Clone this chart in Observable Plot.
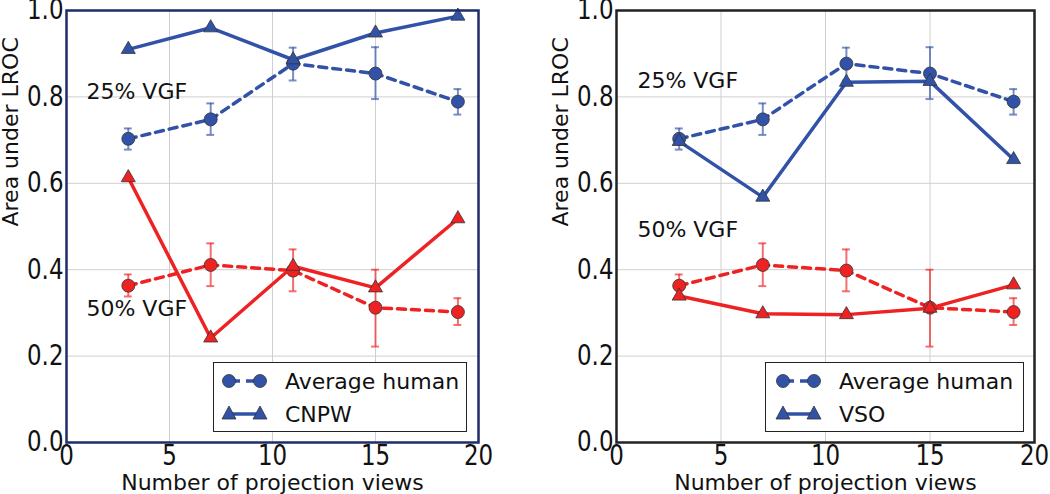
<!DOCTYPE html>
<html>
<head>
<meta charset="utf-8">
<script src="https://cdn.jsdelivr.net/npm/d3@7"></script>
<script src="https://cdn.jsdelivr.net/npm/@observablehq/plot@0.6"></script>
<style>
  html, body { margin: 0; padding: 0; background: #fff; }
  #wrap { position: relative; width: 1050px; height: 494px; overflow: hidden; font-family: "DejaVu Sans", sans-serif; }
  .panel { position: absolute; top: 0; }
  .legend { position: absolute; background: #fff; border: 1.5px solid #222; box-sizing: border-box; }
  .legend svg { display: block; }
</style>
</head>
<body>
<div id="wrap"></div>
<script>
// ---- data ----
const views = [3, 7, 11, 15, 19];
const xTicks = [0, 5, 10, 15, 20];
const yTicks = [0, 0.2, 0.4, 0.6, 0.8, 1.0];

const human25   = [0.703, 0.748, 0.877, 0.854, 0.789];
const human25Lo = [0.678, 0.712, 0.838, 0.795, 0.759];
const human25Hi = [0.727, 0.785, 0.914, 0.915, 0.818];

const human50   = [0.363, 0.411, 0.398, 0.312, 0.302];
const human50Lo = [0.338, 0.362, 0.350, 0.222, 0.272];
const human50Hi = [0.389, 0.461, 0.447, 0.400, 0.334];

const cnpw25 = [0.910, 0.960, 0.886, 0.948, 0.987];
const cnpw50 = [0.613, 0.242, 0.408, 0.358, 0.518];

const vso25 = [0.697, 0.568, 0.834, 0.836, 0.655];
const vso50 = [0.339, 0.298, 0.296, 0.311, 0.365];

const panelModels = ["CNPW", "VSO"];
const humanLabel = "Average human";
const xLabel = "Number of projection views";
const yLabel = "Area under LROC";
const vgfLabels = ["25% VGF", "50% VGF"];
const leftAnnot = [{x: 0.97, y: 0.811}, {x: 0.97, y: 0.310}];
const rightAnnot = [{x: 1.0, y: 0.838}, {x: 1.0, y: 0.491}];

const BLUE = "#3252a8";
const RED = "#ee2222";

const rows = (ys, lo, hi) => views.map((x, i) => ({x, y: ys[i], lo: lo ? lo[i] : null, hi: hi ? hi[i] : null}));

function panel({model25, model50, annot, frameColor, width, marginLeft, marginRight}) {
  const h25 = rows(human25, human25Lo, human25Hi);
  const h50 = rows(human50, human50Lo, human50Hi);
  const m25 = rows(model25);
  const m50 = rows(model50);
  const capHalf = 0.19;
  const errMarks = (data, color) => [
    Plot.ruleX(data, {x: "x", y1: "lo", y2: "hi", stroke: color, strokeWidth: 2, strokeOpacity: 0.65}),
    Plot.ruleY(data, {y: "lo", x1: d => d.x - capHalf, x2: d => d.x + capHalf, stroke: color, strokeWidth: 2, strokeOpacity: 0.65}),
    Plot.ruleY(data, {y: "hi", x1: d => d.x - capHalf, x2: d => d.x + capHalf, stroke: color, strokeWidth: 2, strokeOpacity: 0.65})
  ];
  const series = (data, color, dashed, symbol) => [
    Plot.line(data, {x: "x", y: "y", stroke: color, strokeWidth: 3.5, strokeDasharray: dashed ? "8,6" : null}),
    Plot.dot(data, {x: "x", y: "y", fill: color, stroke: "#333", strokeWidth: 0.8, symbol, r: symbol === "circle" ? 6.5 : 5.2})
  ];
  const svg = Plot.plot({
    width, height: 494, marginLeft, marginRight, marginTop: 10, marginBottom: 52,
    x: {domain: [0, 20]},
    y: {domain: [0, 1]},
    style: {fontFamily: "DejaVu Sans, sans-serif", fontSize: "22px", color: "#111", background: "transparent", overflow: "visible"},
    marks: [
      Plot.gridX(xTicks, {stroke: "#cfcfcf", strokeOpacity: 1, strokeWidth: 1}),
      Plot.gridY(yTicks, {stroke: "#cfcfcf", strokeOpacity: 1, strokeWidth: 1}),
      Plot.axisX(xTicks, {tickSize: 0, tickPadding: 3, label: null, tickFormat: d => String(d), fontSize: 28, fill: "#111"}),
      Plot.axisY(yTicks, {tickSize: 0, tickPadding: 3, label: null, tickFormat: d => d.toFixed(1), fontSize: 28, fill: "#111"}),
      ...errMarks(h25, BLUE),
      ...errMarks(h50, RED),
      ...series(h25, BLUE, true, "circle"),
      ...series(h50, RED, true, "circle"),
      ...series(m25, BLUE, false, "triangle"),
      ...series(m50, RED, false, "triangle"),
      Plot.text(vgfLabels.map((t, i) => ({t, ...annot[i]})), {x: "x", y: "y", text: "t", textAnchor: "start", lineAnchor: "middle", fontSize: 22, fill: "#111"}),
      Plot.frame({stroke: frameColor, strokeWidth: 2.5}),
      Plot.text([xLabel], {frameAnchor: "bottom", dy: 47, fontSize: 22, fill: "#111", lineAnchor: "bottom"}),
      Plot.text([yLabel], {frameAnchor: "left", rotate: -90, dx: -49, fontSize: 22, fill: "#111", lineAnchor: "bottom"})
    ]
  });
  // tick labels in the reference are drawn narrower than tall
  svg.querySelectorAll('g[aria-label="x-axis tick label"] text, g[aria-label="y-axis tick label"] text').forEach(t => {
    const tr = t.getAttribute("transform");
    if (tr) {
      t.setAttribute("transform", tr + " scale(0.82,1)");
    } else {
      const x = +(t.getAttribute("x") || 0), y = +(t.getAttribute("y") || 0);
      t.removeAttribute("x"); t.removeAttribute("y");
      t.setAttribute("transform", `translate(${x},${y}) scale(0.82,1)`);
    }
  });
  return svg;
}

function legend(model, left, width, mx1, mx2, tx) {
  const div = document.createElement("div");
  div.className = "legend";
  div.style.left = left + "px";
  div.style.top = "362px";
  div.style.width = width + "px";
  div.style.height = "70px";
  const tri = (cx, cy) => `<path d="M${cx},${cy - 7} L${cx + 7},${cy + 6} L${cx - 7},${cy + 6} Z" fill="${BLUE}" stroke="#333" stroke-width="0.8"/>`;
  div.innerHTML = `<svg width="${width - 3}" height="67" font-family="DejaVu Sans, sans-serif" font-size="22" fill="#111">
    <line x1="${mx1}" x2="${mx2}" y1="18" y2="18" stroke="${BLUE}" stroke-width="3.5" stroke-dasharray="8,6" stroke-dashoffset="-3"/>
    <circle cx="${mx1}" cy="18" r="6.5" fill="${BLUE}" stroke="#333" stroke-width="0.8"/>
    <circle cx="${mx2}" cy="18" r="6.5" fill="${BLUE}" stroke="#333" stroke-width="0.8"/>
    <text x="${tx}" y="26">${humanLabel}</text>
    <line x1="${mx1}" x2="${mx2}" y1="51" y2="51" stroke="${BLUE}" stroke-width="3.5"/>
    ${tri(mx1, 50)}${tri(mx2, 50)}
    <text x="${tx}" y="59">${model}</text>
  </svg>`;
  return div;
}

const wrap = document.getElementById("wrap");
const p1 = panel({model25: cnpw25, model50: cnpw50, annot: leftAnnot, frameColor: "#1e2d6a", width: 530, marginLeft: 66, marginRight: 52});
p1.classList.add("panel"); p1.style.left = "0px";
const p2 = panel({model25: vso25, model50: vso50, annot: rightAnnot, frameColor: "#222", width: 520, marginLeft: 86, marginRight: 16});
p2.classList.add("panel"); p2.style.left = "530px";
wrap.appendChild(p1);
wrap.appendChild(p2);
wrap.appendChild(legend(panelModels[0], 213, 254, 15, 46, 71));
wrap.appendChild(legend(panelModels[1], 765, 259, 17, 48, 73));
</script>
</body>
</html>
